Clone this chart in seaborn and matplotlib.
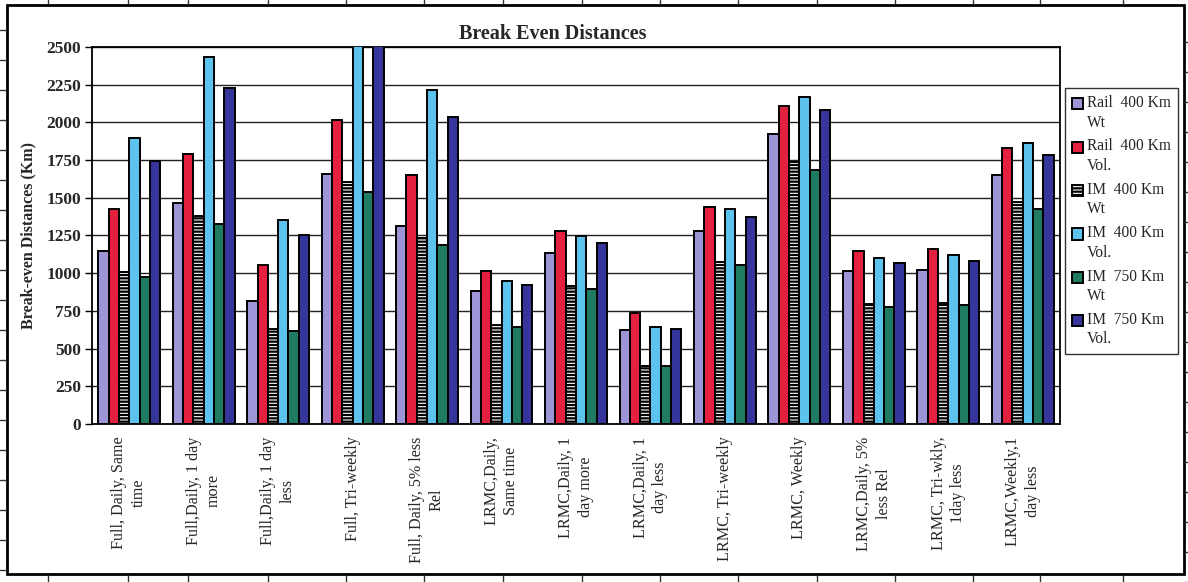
import numpy as np
import pandas as pd
import matplotlib
matplotlib.use("Agg")
import matplotlib.pyplot as plt
from matplotlib.lines import Line2D
from matplotlib.patches import Rectangle
from matplotlib.legend_handler import HandlerPatch
import seaborn as sns

# Scenario categories (x axis)
scenarios = [
    "Full, Daily, Same\ntime",
    "Full,Daily, 1 day\nmore",
    "Full,Daily, 1 day\nless",
    "Full, Tri-weekly",
    "Full, Daily, 5% less\nRel",
    "LRMC,Daily,\nSame time",
    "LRMC,Daily, 1\nday more",
    "LRMC,Daily, 1\nday less",
    "LRMC, Tri-weekly",
    "LRMC, Weekly",
    "LRMC,Daily, 5%\nless Rel",
    "LRMC, Tri-wkly,\n1day less",
    "LRMC,Weekly,1\nday less",
]

# Series names (legend)
series = [
    "Rail  400 Km\nWt",
    "Rail  400 Km\nVol.",
    "IM  400 Km\nWt",
    "IM  400 Km\nVol.",
    "IM  750 Km\nWt",
    "IM  750 Km\nVol.",
]

# Break-even distances (Km) per series
rail_400_wt = [1147, 1465, 816, 1660, 1310, 881, 1134, 623, 1281, 1920, 1012, 1021, 1654]
rail_400_vol = [1426, 1793, 1054, 2014, 1650, 1014, 1281, 738, 1441, 2108, 1149, 1163, 1831]
im_400_wt = [1006, 1377, 630, 1605, 1232, 654, 916, 383, 1073, 1738, 795, 804, 1473]
im_400_vol = [1894, 2436, 1350, 2750, 2218, 947, 1246, 641, 1424, 2170, 1100, 1118, 1862]
im_750_wt = [975, 1324, 617, 1536, 1185, 641, 894, 383, 1052, 1687, 773, 786, 1424]
im_750_vol = [1744, 2230, 1253, 2700, 2033, 921, 1203, 632, 1371, 2079, 1065, 1078, 1787]

y_ticks = list(range(0, 2501, 250))

values = [rail_400_wt, rail_400_vol, im_400_wt, im_400_vol, im_750_wt, im_750_vol]
df = pd.DataFrame(
    [(sc, se, v) for se, vals in zip(series, values) for sc, v in zip(scenarios, vals)],
    columns=["scenario", "series", "km"],
)

colors = ["#9c96d6", "#e3203d", "#ffffff", "#5cc3ef", "#1f7b62", "#35359c"]

sns.set_style("white")
serif = ["Liberation Serif", "DejaVu Serif"]
plt.rcParams["font.family"] = serif
plt.rcParams["hatch.linewidth"] = 1.6
plt.rcParams["hatch.color"] = "black"

W, H = 1188, 582
fig = plt.figure(figsize=(W / 100, H / 100), dpi=100)
fig.patch.set_facecolor("white")

# plot area in pixel coordinates
px_l, px_r, px_t, px_b = 92, 1060, 47, 424
ax = fig.add_axes([px_l / W, 1 - px_b / H, (px_r - px_l) / W, (px_b - px_t) / H])

sns.barplot(
    data=df, x="scenario", y="km", hue="series",
    order=scenarios, hue_order=series, palette=colors,
    width=0.83, saturation=1, errorbar=None, legend=False,
    edgecolor="black", linewidth=1.4, ax=ax, zorder=3,
)

# striped series
for bar in ax.containers[2]:
    bar.set_hatch("-----")
    bar.set_facecolor("white")

ax.set_ylim(0, 2500)
ax.set_xlim(-0.5, len(scenarios) - 0.5)
ax.set_yticks(y_ticks)
ax.set_yticklabels([str(t) for t in y_ticks], fontweight="bold", fontsize=12.5)
ax.yaxis.grid(True, color="#222222", linewidth=1.0, zorder=0)
ax.set_axisbelow(True)

ax.set_xticks(range(len(scenarios)))
ax.set_xticklabels(scenarios, rotation=90, fontsize=11.6, ha="center", va="top",
                   multialignment="center", linespacing=1.3)
ax.set_xticks(np.arange(-0.5, len(scenarios), 1.0), minor=True)
ax.tick_params(axis="x", which="major", length=0, pad=9)
ax.tick_params(axis="x", which="minor", length=5, width=1.0, direction="out", color="black")
ax.tick_params(axis="y", which="major", length=5, width=1.0, direction="out", color="black",
               left=True, pad=3)
ax.set_xlabel("")
ax.set_ylabel("Break-even Distances (Km)", fontweight="bold", fontsize=11.5, labelpad=7)

for s in ax.spines.values():
    s.set_visible(True)
    s.set_color("black")
    s.set_linewidth(1.3)

fig.text(553 / W, 1 - 34 / H, "Break Even Distances", ha="center", va="center",
         fontsize=14.5, fontweight="bold")


class FirstLineSquare(HandlerPatch):
    """Legend key drawn level with the first line of a two-line label."""

    def create_artists(self, legend, orig_handle, xdescent, ydescent, width, height,
                       fontsize, trans):
        side = 0.72 * fontsize
        p = Rectangle((-xdescent, -ydescent + 0.62 * fontsize), side, side,
                      facecolor=orig_handle.get_facecolor(), edgecolor="black",
                      linewidth=1.4, hatch=orig_handle.get_hatch())
        p.set_transform(trans)
        return [p]


handles = []
for i, col in enumerate(colors):
    handles.append(Rectangle((0, 0), 1, 1, facecolor=col, edgecolor="black",
                             hatch="-----" if i == 2 else None))
leg = fig.legend(
    handles, series, loc="upper left", bbox_to_anchor=(1065 / W, 1 - 88 / H),
    frameon=True, fancybox=False, fontsize=11.2, handlelength=0.75, handleheight=0.75,
    handletextpad=0.2, labelspacing=0.5, borderpad=0.45, borderaxespad=0,
    handler_map={Rectangle: FirstLineSquare()},
)
for t in leg.get_texts():
    t.set_linespacing(1.3)
    t.set_multialignment("left")
leg.get_frame().set_edgecolor("black")
leg.get_frame().set_linewidth(1.0)

# chart frame and surrounding sheet cell lines
def fig_line(x0, y0, x1, y1, lw=1.0, color="black"):
    fig.add_artist(Line2D([x0 / W, x1 / W], [1 - y0 / H, 1 - y1 / H],
                          transform=fig.transFigure, color=color, linewidth=lw))

fig.add_artist(Rectangle((7 / W, 1 - 574 / H), (1184 - 7) / W, (574 - 5) / H,
                         transform=fig.transFigure, fill=False, edgecolor="black",
                         linewidth=2.0))
cols = [48, 128, 188, 268, 346, 424, 503, 582, 660, 738, 817, 895, 973, 1040, 1123]
for x in cols:
    fig_line(x, 0, x, 4, lw=1.0, color="#333333")
    fig_line(x, 575, x, 582, lw=1.0, color="#333333")
for y in range(30, 575, 30):
    fig_line(0, y, 6, y, lw=1.0, color="#333333")
    fig_line(1185, y + 12, 1188, y + 12, lw=1.0, color="#333333")

fig.savefig("out.png", dpi=100)
